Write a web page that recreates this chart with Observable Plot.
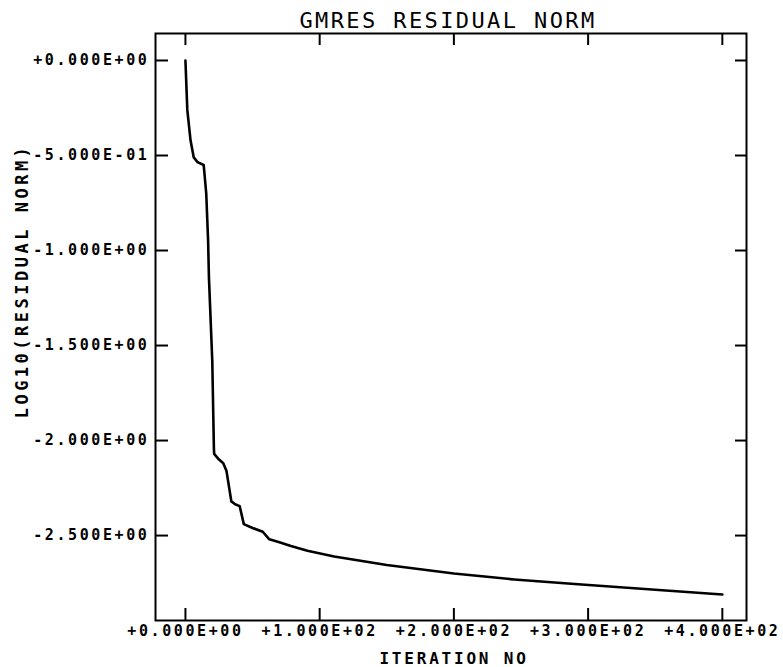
<!DOCTYPE html>
<html>
<head>
<meta charset="utf-8">
<script src="https://cdn.jsdelivr.net/npm/d3@7"></script>
<script src="https://cdn.jsdelivr.net/npm/@observablehq/plot@0.6"></script>
<style>
  html, body { margin: 0; padding: 0; background: #fff; }
  #chart svg { display: block; background: #fff; }
</style>
</head>
<body>
<div id="chart"></div>
<script>
// ---- data ----
const titleText = "GMRES RESIDUAL NORM";
const xLabelText = "ITERATION NO";
const yLabelText = "LOG10(RESIDUAL NORM)";

const iteration = [0, 1.4, 3.8, 6.2, 9, 13.6, 15.5, 16.9, 17.5, 20.0, 21.2, 21.4, 25, 28.2, 30.6, 34.2, 37, 40.4, 43.5, 50, 57.6, 62.5, 70, 78.6, 90.9, 110.8, 150, 200, 245, 290, 350, 400];
const logResidual = [0, -0.26, -0.42, -0.51, -0.535, -0.55, -0.70, -0.95, -1.14, -1.58, -2.04, -2.07, -2.10, -2.12, -2.16, -2.32, -2.335, -2.345, -2.44, -2.46, -2.48, -2.52, -2.535, -2.555, -2.58, -2.61, -2.655, -2.70, -2.731, -2.755, -2.785, -2.81];

const xTicks = [0, 100, 200, 300, 400];
const xTickLabels = ["+0.000E+00", "+1.000E+02", "+2.000E+02", "+3.000E+02", "+4.000E+02"];
const yTicks = [0, -0.5, -1.0, -1.5, -2.0, -2.5];
const yTickLabels = ["+0.000E+00", "-5.000E-01", "-1.000E+00", "-1.500E+00", "-2.000E+00", "-2.500E+00"];

const xDomain = [-22.3, 418];
const yDomain = [-2.947, 0.142];

// ---- build ----
const series = iteration.map((x, i) => ({x, y: logResidual[i]}));
const mono = "DejaVu Sans Mono";
const blank = () => "";

const chart = Plot.plot({
  width: 783,
  height: 667,
  marginLeft: 155,
  marginRight: 37,
  marginTop: 33,
  marginBottom: 47,
  style: {background: "#fff", color: "#000", overflow: "visible"},
  x: {domain: xDomain, axis: null},
  y: {domain: yDomain, axis: null},
  marks: [
    Plot.frame({stroke: "#000", strokeWidth: 2}),
    // inward ticks on all four sides
    Plot.axisY(yTicks, {anchor: "left", tickSize: -13, strokeWidth: 2, tickFormat: blank, label: null}),
    Plot.axisY(yTicks, {anchor: "right", tickSize: -12, strokeWidth: 2, tickFormat: blank, label: null}),
    Plot.axisX(xTicks, {anchor: "bottom", tickSize: -12, strokeWidth: 2, tickFormat: blank, label: null}),
    Plot.axisX(xTicks, {anchor: "top", tickSize: -11, strokeWidth: 2, tickFormat: blank, label: null}),
    // tick labels
    Plot.axisY(yTicks, {
      anchor: "left", tickSize: 0, tickPadding: 6, label: null,
      tickFormat: d => yTickLabels[yTicks.indexOf(d)],
      fontFamily: mono, fontWeight: "bold", fontSize: 15, fill: "#000"
    }),
    Plot.axisX(xTicks, {
      anchor: "bottom", tickSize: 0, tickPadding: 5, label: null,
      tickFormat: d => xTickLabels[xTicks.indexOf(d)],
      fontFamily: mono, fontWeight: "bold", fontSize: 15, fill: "#000", dx: 0
    }),
    // the curve
    Plot.line(series, {x: "x", y: "y", stroke: "#000", strokeWidth: 2.6, curve: "linear"}),
    // titles
    Plot.text([titleText], {
      frameAnchor: "top", lineAnchor: "bottom", textAnchor: "middle", dy: -6, dx: -3,
      fontFamily: mono, fontSize: 22, fill: "#000"
    }),
    Plot.text([xLabelText], {
      frameAnchor: "bottom", lineAnchor: "bottom", textAnchor: "middle", dy: 43, dx: 3,
      fontFamily: mono, fontWeight: "bold", fontSize: 16, fill: "#000"
    }),
    Plot.text([yLabelText], {
      frameAnchor: "left", rotate: -90, lineAnchor: "middle", textAnchor: "middle", dx: -133, dy: -46,
      fontFamily: mono, fontWeight: "bold", fontSize: 17, fill: "#000"
    })
  ]
});

// letter spacing to mimic the wide plotter lettering (keyed by font size)
const spacing = {"15": "2.6px", "22": "2.4px", "16": "2.8px", "17": "3.5px"};
d3.select(chart).selectAll("g[font-size]").each(function () {
  const s = spacing[this.getAttribute("font-size")];
  if (s) d3.select(this).style("letter-spacing", s);
});

document.getElementById("chart").appendChild(chart);
</script>
</body>
</html>
